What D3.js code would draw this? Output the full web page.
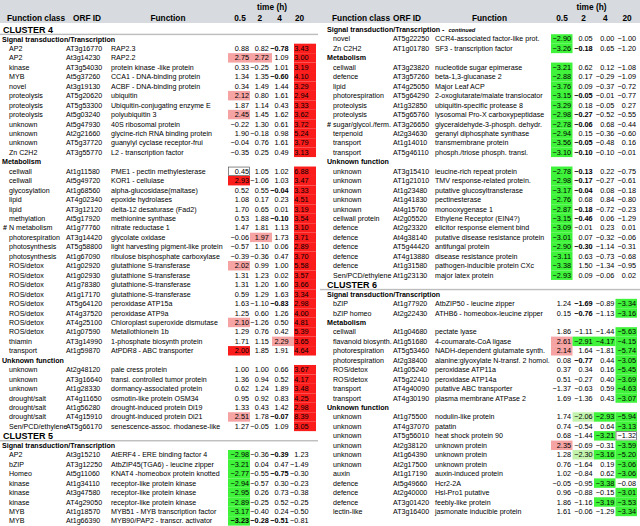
<!DOCTYPE html>
<html>
<head>
<meta charset="utf-8">
<script src="https://cdn.jsdelivr.net/npm/d3@7"></script>
<style>
  body { margin: 0; background: #fff; }
  svg { display: block; font-family: "Liberation Sans", Arial, Helvetica, sans-serif; }
</style>
</head>
<body>
<svg id="chart" width="640" height="526"></svg>
<script>
const timeLabels = ["0.5", "2", "4", "20"];

// row: [function class, ORF ID, function, log2 ratios per time, highlight, bold]
// highlight per time: R strong up, r up, G strong down, g down, o boxed, . none
const c4Signal = [
  ["AP2", "AT3g16770", "RAP2.3", [0.88, 0.82, -0.78, 3.43], "...R", "..b."],
  ["AP2", "At3g14230", "RAP2.2", [2.75, 2.72, 1.09, 3.00], "rr.R", "...."],
  ["kinase", "AT3g54030", "protein kinase -like protein", [0.33, -0.25, 1.01, 3.19], "...R", "...."],
  ["MYB", "At5g37260", "CCA1 - DNA-binding protein", [1.34, 1.35, -0.60, 4.10], "...R", "..b."],
  ["novel", "At3g19130", "ACBF - DNA-binding protein", [0.34, 1.49, 1.44, 3.29], "...R", "...."],
  ["proteolysis", "AT5g20620", "ubiquitin", [2.12, 0.80, 1.61, 2.94], "r..R", "...."],
  ["proteolysis", "AT5g53300", "Ubiquitin-conjugating enzyme E", [1.87, 1.14, 0.43, 3.33], "...R", "...."],
  ["proteolysis", "At5g03240", "polyubiquitin 3", [2.45, 1.45, 1.62, 3.62], "r..R", "...."],
  ["unknown", "At5g47930", "40S ribosomal protein", [-0.22, 1.30, 0.61, 3.72], "...R", "...."],
  ["unknown", "At2g21660", "glycine-rich RNA binding protein", [1.90, -0.18, 0.98, 5.24], "...R", "...."],
  ["unknown", "AT5g37720", "guanylyl cyclase receptor-frui", [-0.04, 0.76, 1.61, 3.79], "...R", "...."],
  ["Zn C2H2", "AT3g55770", "L2 - transcription factor", [-0.35, 0.25, 0.49, 3.13], "...R", "...."]
];

const c4Metabolism = [
  ["cellwall", "At1g11580", "PME1 - pectin methylesterase", [0.45, 1.05, 1.02, 6.88], "o..R", "...."],
  ["cellwall", "At5g49720", "KOR1 - cellulase", [2.93, -1.06, 1.03, 3.47], "R..R", "...."],
  ["glycosylation", "At1g68560", "alpha-glucosidase(maltase)", [0.52, 0.55, -0.04, 3.33], "...R", "..b."],
  ["lipid", "AT4g02340", "epoxide hydrolases", [1.08, 0.17, 0.23, 4.51], "...R", "...."],
  ["lipid", "AT3g12120", "delta-12 desaturase (Fad2)", [1.70, 0.65, 0.01, 3.19], "...R", "...."],
  ["methylation", "At5g17920", "methionine synthase", [0.53, 1.88, -0.10, 3.54], "...R", "..b."],
  ["# N metabolism", "At1g77760", "nitrate reductase 1", [1.47, 1.81, 1.13, 3.10], "...R", "...."],
  ["photorespiration", "AT3g14420", "glycolate oxidase", [-0.06, 1.97, 1.73, 3.71], ".r.R", "...."],
  ["photosynthesis", "AT5g58800", "light harvesting pigment-like protein", [-0.57, 1.10, 0.06, 2.89], "...R", "...."],
  ["photosynthesis", "At1g67090", "ribulose bisphosphate carboxylase", [-0.39, -0.36, 0.47, 3.70], "...R", "...."],
  ["ROS/detox", "At1g02920", "glutathione S-transferase", [2.02, 0.99, 1.00, 5.58], "r..R", "...."],
  ["ROS/detox", "At1g02930", "glutathione S-transferase", [1.31, 1.23, 0.02, 3.57], "...R", "...."],
  ["ROS/detox", "At1g78380", "glutathione-S-transferase", [1.31, 1.20, 1.60, 3.66], "...R", "...."],
  ["ROS/detox", "At1g17170", "glutathione-S-transferase", [0.59, 1.29, 1.63, 3.34], "...R", "...."],
  ["ROS/detox", "AT5g64120", "peroxidase ATP15a", [1.63, -1.10, -0.83, 2.98], "...R", "..b."],
  ["ROS/detox", "AT4g37520", "peroxidase ATP9a", [1.25, 0.60, 1.26, 4.00], "...R", "...."],
  ["ROS/detox", "AT4g25100", "Chloroplast superoxide dismutase", [2.10, -1.26, 0.50, 4.81], "r..R", "...."],
  ["ROS/detox", "At1g07590", "Metallothionein 1b", [1.29, 0.76, 0.42, 5.39], "...R", "...."],
  ["thiamin", "AT3g14990", "1-phosphate biosynth protein", [1.71, 1.15, 2.29, 3.65], "..rR", "...."],
  ["transport", "At1g59870", "AtPDR8 - ABC transporter", [2.00, 1.85, 1.91, 4.64], "R..R", "...."]
];

const c4Unknown = [
  ["unknown", "At2g48120", "pale cress protein", [1.00, 1.00, 0.66, 3.67], "...R", "...."],
  ["unknown", "AT3g16640", "transl. controlled tumor protein", [1.36, 0.94, 0.52, 4.17], "...R", "...."],
  ["unknown", "At1g28330", "dormancy-associated protein", [0.62, 1.24, 1.89, 3.48], "...R", "...."],
  ["drought/salt", "AT4g11650", "osmotin-like protein OSM34", [0.95, 0.92, 0.83, 4.25], "...R", "...."],
  ["drought/salt", "At1g56280", "drought-induced protein Di19", [1.33, 0.43, 1.42, 2.98], "...R", "...."],
  ["drought/salt", "AT4g15910", "drought-induced protein Di21", [2.51, 1.78, -0.07, 8.39], "r..R", "..b."],
  ["Sen/PCD/ethylene", "AT5g66170", "senescence-assoc. rhodanese-like", [1.27, -0.05, 1.09, 3.05], "...R", "...."]
];

const c5Signal = [
  ["AP2", "At3g15210", "AtERF4 - ERE binding factor 4", [-2.98, -0.36, -0.39, 1.23], "G...", "..b."],
  ["bZIP", "AT3g12250", "AtbZIP45(TGA6) - leucine zipper", [-3.21, 0.04, 0.47, -1.49], "G...", "...."],
  ["Homeo", "At5g11060", "KNAT4 -homeobox protein knotted", [-2.77, -0.55, -0.75, -0.30], "G...", "..b."],
  ["kinase", "At1g34110", "receptor-like protein kinase", [-2.94, -0.57, 0.30, -0.23], "G...", "...."],
  ["kinase", "At3g47580", "receptor-like protein kinase", [-2.95, 0.26, 0.73, -0.38], "G...", "...."],
  ["kinase", "AT4g29050", "receptor-like protein kinase", [-2.89, -0.25, 0.52, -0.25], "G...", "...."],
  ["MYB", "At1g18570", "MYB51 - MYB transcription factor", [-3.17, -0.40, 0.24, -0.50], "G...", "...."],
  ["MYB", "At1g66390", "MYB90/PAP2 - transcr. activator", [-3.23, -0.28, -0.51, -0.81], "G...", "bbb."]
];

const c5SignalCont = [
  ["novel", "AT5g22250", "CCR4-associated factor-like prot.", [-2.90, 0.05, 0.00, -1.00], "G...", "...."],
  ["Zn C2H2", "AT1g01780", "SF3 - transcription factor", [-3.26, -0.18, 0.65, -1.20], "G...", ".b.."]
];

const c5Metabolism = [
  ["cellwall", "AT3g23820", "nucleotide sugar epimerase", [-3.21, 0.62, 0.12, -1.08], "G...", "...."],
  ["defence", "AT3g57260", "beta-1,3-glucanase 2", [-2.88, 0.17, -0.29, -1.09], "G...", "...."],
  ["lipid", "AT4g25050", "Major Leaf ACP", [-3.76, 0.09, -0.37, -0.72], "G...", "...."],
  ["photorespiration", "AT5g64290", "2-oxoglutarate/malate translocator", [-3.15, -0.05, -0.01, -0.77], "G...", ".b.."],
  ["proteolysis", "At1g32850", "ubiquitin-specific protease 8", [-3.29, 0.18, -0.05, 0.27], "G...", "...."],
  ["proteolysis", "AT5g65760", "lysosomal Pro-X carboxypeptidase", [-2.98, -0.27, -0.52, -0.55], "G...", ".b.."],
  ["# sugar/glycol./ferm.", "AT3g26650", "glyceraldehyde-3-phosph. dehydr.", [-2.78, -0.06, 0.68, -0.44], "G...", ".b.."],
  ["terpenoid", "At2g34630", "geranyl diphosphate synthase", [-2.94, 0.15, -0.36, -0.60], "G...", "...."],
  ["transport", "At1g14010", "transmembrane protein", [-3.56, -0.05, -0.48, 0.16], "G...", ".b.."],
  ["transport", "AT5g46110", "phosph./triose phosph. transl.", [-3.10, -0.10, -0.10, -0.01], "G...", ".b.."]
];

const c5Unknown = [
  ["unknown", "AT3g15410", "leucine-rich repeat protein", [-2.78, -0.13, 0.22, -0.75], "G...", ".b.."],
  ["unknown", "AT1g21010", "TMV response-related protein.", [-2.98, -0.17, -0.27, -0.61], "G...", ".b.."],
  ["unknown", "At1g23480", "putative glucosyltransferase", [-3.17, -0.04, 0.08, -0.18], "G...", ".b.."],
  ["unknown", "At1g41830", "pectinesterase", [-2.76, 0.68, 0.84, -0.80], "G...", "...."],
  ["unknown", "At4g15760", "monooxygenase 1", [-2.87, -0.18, -0.72, -0.23], "G...", ".b.."],
  ["cellwall protein", "At2g05520", "Ethylene Receptor (EIN4?)", [-3.15, -0.46, 0.06, -1.29], "G...", ".b.."],
  ["defence", "At2g23320", "elicitor response element bind", [-3.09, -0.01, 0.23, 0.01], "G...", "...."],
  ["defence", "At4g38140", "putative disease resistance protein", [-3.01, 0.07, -0.32, -0.06], "G...", "...."],
  ["defence", "AT5g44420", "antifungal protein", [-2.90, -0.30, -1.14, -0.31], "G...", ".b.."],
  ["defence", "AT4g13880", "disease resistance protein", [-3.11, 0.63, -0.73, -0.68], "G...", "...."],
  ["defence", "At1g31580", "pathogen-inducible protein CXc", [-3.38, 1.50, -1.34, -0.95], "G...", "...."],
  ["Sen/PCD/ethylene", "At1g23130", "major latex protein", [-2.93, 0.09, -0.06, 0.02], "G...", "...."]
];

const c6Signal = [
  ["bZIP", "At1g77920", "AtbZIP50 - leucine zipper", [1.24, -1.69, -0.89, -3.34], "...G", ".b.."],
  ["bZIP homeo", "At2g22430", "ATHB6 - homeobox-leucine zipper", [0.15, -0.76, -1.13, -3.16], "...G", ".b.."]
];

const c6Metabolism = [
  ["cellwall", "At1g04680", "pectate lyase", [1.86, -1.11, -1.44, -5.63], "...G", "...."],
  ["flavanoid biosynth.", "At1g51680", "4-coumarate-CoA ligase", [2.61, -2.91, -4.17, -4.15], "rGGG", "...."],
  ["photorespiration", "AT5g53460", "NADH-dependent glutamate synth.", [2.14, 1.64, -1.81, -5.74], "r..G", "...."],
  ["photorespiration", "At2g38400", "alanine:glyoxylate N-transf. 2 homol.", [0.08, -0.77, 0.44, -3.05], "...G", ".b.."],
  ["ROS/detox", "At1g05240", "peroxidase ATP11a", [0.37, 0.34, 0.16, -5.45], "...G", "...."],
  ["ROS/detox", "AT5g22410", "peroxidase ATP14a", [0.51, -0.27, 0.40, -3.69], "...G", "...."],
  ["transport", "AT4g40090", "putative ABC transporter", [-1.37, -0.63, 0.59, -4.63], "...G", "...."],
  ["transport", "AT4g30190", "plasma membrane ATPase 2", [1.69, -1.36, 0.43, -3.07], "...G", "...."]
];

const c6Unknown = [
  ["unknown", "At1g75500", "nodulin-like protein", [1.74, -2.06, -2.93, -5.94], ".gGG", "...."],
  ["unknown", "AT4g37070", "patatin", [0.74, -0.54, 0.64, -3.13], "...G", "...."],
  ["unknown", "AT5g56010", "heat shock protein 90", [0.68, -1.44, -3.21, -1.32], "..Go", "...."],
  ["unknown", "At2g38120", "unknown protein", [2.35, -0.69, -0.31, -3.59], "r..G", "...."],
  ["unknown", "At1g64390", "unknown protein", [1.28, -2.30, -3.16, -5.20], ".gGG", "...."],
  ["unknown", "At2g17500", "unknown protein", [0.76, -1.64, 0.19, -3.06], "...G", "...."],
  ["auxin", "At1g17190", "auxin-induced protein", [1.02, -0.84, 0.62, -3.06], "...G", "...."],
  ["defence", "At5g49660", "Hcr2-2A", [-0.05, -0.95, -3.38, -0.08], "..G.", "...."],
  ["defence", "At2g40000", "Hsl-Pro1 putative", [0.96, -0.88, -0.15, -3.01], "...G", "...."],
  ["defence", "AT3g01420", "feebly-like protein", [1.86, -1.16, -3.19, -3.53], "..GG", "...."],
  ["lectin-like", "AT3g16400", "jasmonate inducible protein", [1.61, -0.06, -1.29, -3.34], "...G", "...."]
];

const SIG = "Signal transduction/Transcription";

const leftBlocks = [
  ["cluster", "CLUSTER 4"], ["section", SIG], c4Signal,
  ["section", "Metabolism"], c4Metabolism,
  ["section", "Unknown function"], c4Unknown,
  ["cluster", "CLUSTER 5"], ["section", SIG], c5Signal
];

const rightBlocks = [
  ["section", SIG, "continued"], c5SignalCont,
  ["section", "Metabolism"], c5Metabolism,
  ["section", "Unknown function"], c5Unknown,
  ["cluster", "CLUSTER 6"], ["section", SIG], c6Signal,
  ["section", "Metabolism"], c6Metabolism,
  ["section", "Unknown function"], c6Unknown
];

const fills = { R: "#fb1c1c", r: "#f5a3a3", G: "#3ff23a", g: "#c2f2ae" };
const fmt = d3.format(".2f");

const svg = d3.select("#chart");

// header band
svg.append("rect").attr("x", 0).attr("y", 0).attr("width", 640).attr("height", 23).attr("fill", "#d7dbdf");

function flatten(blocks) {
  const out = [];
  blocks.forEach(b => {
    if (b[0] === "cluster" || b[0] === "section") {
      out.push({ kind: b[0], text: b[1], extra: b[2] });
    } else {
      b.forEach(r => out.push({ kind: "row", row: r }));
    }
  });
  return out;
}

function drawPanel(blocks, cfg) {
  const lines = flatten(blocks);
  const g = svg.append("g").attr("transform", `translate(${cfg.x0},0)`);
  const y = d3.scaleLinear().domain([0, 1]).range([29.5, 29.5 + 9.45]);
  const xBox = d3.scaleBand().domain(timeLabels).range(cfg.boxRange);
  const xText = d3.scalePoint().domain(timeLabels).range(cfg.textRange);
  const fs = 7.1;

  // column headers
  g.append("text").attr("x", cfg.timeX).attr("y", 9.5).attr("text-anchor", "middle")
    .attr("font-size", 8.3).attr("font-weight", "bold").text("time (h)");
  const hdr = g.append("g").attr("font-size", 8.3).attr("font-weight", "bold");
  hdr.append("text").attr("x", cfg.headClassX).attr("y", 20.5).text("Function class");
  hdr.append("text").attr("x", cfg.headOrfX).attr("y", 20.5).text("ORF ID");
  hdr.append("text").attr("x", cfg.headFuncX).attr("y", 20.5).attr("text-anchor", "middle").text("Function");
  hdr.selectAll(".th").data(timeLabels).join("text")
    .attr("x", d => xText(d) - 9).attr("y", 20.5).attr("text-anchor", "middle").text(d => d);

  lines.forEach((ln, i) => {
    const yc = y(i);
    if (ln.kind === "cluster") {
      g.append("text").attr("x", cfg.clusterX).attr("y", yc + 3.3)
        .attr("font-size", 9).attr("font-weight", "bold").text(ln.text);
      g.append("rect").attr("x", 0).attr("y", yc + 4.2).attr("width", cfg.width).attr("height", 1.4)
        .attr("fill", "#bdbdbd");
    } else if (ln.kind === "section") {
      const t = g.append("text").attr("x", cfg.sectionX).attr("y", yc + 2.6)
        .attr("font-size", 7.1).attr("font-weight", "bold");
      t.append("tspan").text(ln.text + (ln.extra ? " - " : ""));
      if (ln.extra) t.append("tspan").attr("font-size", 5.6).attr("font-style", "italic").attr("dx", 2).text(ln.extra);
    } else {
      const [cls, orf, fn, vals, hl, bold] = ln.row;
      const cells = vals.map((v, k) => ({ t: timeLabels[k], v, h: hl[k], b: bold[k] === "b" }));
      g.selectAll(null).data(cells.filter(c => fills[c.h])).join("rect")
        .attr("x", c => xBox(c.t)).attr("y", yc - 4.725)
        .attr("width", xBox.bandwidth()).attr("height", 9.45)
        .attr("fill", c => fills[c.h]);
      g.selectAll(null).data(cells.filter(c => c.h === "o")).join("rect")
        .attr("x", c => xBox(c.t) + 0.5).attr("y", yc - 4.2)
        .attr("width", xBox.bandwidth() - 1).attr("height", 8.4)
        .attr("fill", "#fff").attr("stroke", "#555").attr("stroke-width", 0.7);

      const row = g.append("g").attr("font-size", fs).attr("fill", "#000");
      if (cls.startsWith("# ")) {
        row.append("text").attr("x", cfg.classX - 6).attr("y", yc + 2.5).attr("font-weight", "bold").text("#");
        row.append("text").attr("x", cfg.classX).attr("y", yc + 2.5).text(cls.slice(2));
      } else {
        row.append("text").attr("x", cfg.classX).attr("y", yc + 2.5).text(cls);
      }
      row.append("text").attr("x", cfg.orfX).attr("y", yc + 2.5).text(orf);
      row.append("text").attr("x", cfg.funcX).attr("y", yc + 2.5).text(fn);
      row.selectAll(null).data(cells).join("text")
        .attr("x", c => xText(c.t)).attr("y", yc + 2.5)
        .attr("text-anchor", "end")
        .attr("font-size", 7.3)
        .attr("font-weight", c => c.b ? "bold" : null)
        .text(c => fmt(c.v));
    }
  });
}

drawPanel(leftBlocks, {
  x0: 0, width: 318, classX: 9, sectionX: 2, clusterX: 3, orfX: 66, funcX: 111,
  boxRange: [228, 316], textRange: [249, 308.5], timeX: 272,
  headClassX: 7, headOrfX: 73, headFuncX: 168
});

drawPanel(rightBlocks, {
  x0: 320, width: 320, classX: 13, sectionX: 7, clusterX: 7, orfX: 73, funcX: 115,
  boxRange: [231, 317], textRange: [251, 316], timeX: 271.5,
  headClassX: 12, headOrfX: 73, headFuncX: 169.5
});
</script>
</body>
</html>
